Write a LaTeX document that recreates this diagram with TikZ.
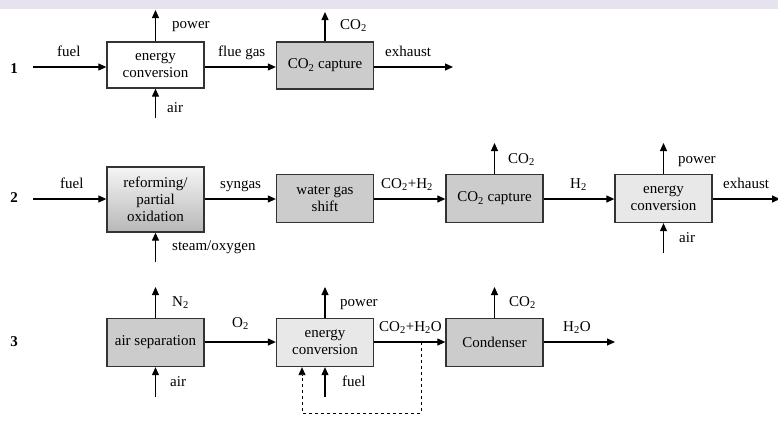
\documentclass[tikz,border=0pt]{standalone}
\usepackage{fontspec}
\setmainfont{Liberation Serif}
\usetikzlibrary{arrows.meta}
\definecolor{band}{RGB}{230,226,240}
\begin{document}
\begin{tikzpicture}[x=1pt,y=-1pt,
  every node/.style={font=\fontsize{15}{17}\selectfont, inner sep=0pt},
  box/.style={draw=black!80, line width=1.3pt, minimum width=97pt, minimum height=48pt, align=center},
  whitebox/.style={box, fill=white},
  graybox/.style={box, fill=black!20},
  lightbox/.style={box, fill=black!9},
  shadebox/.style={box, top color=black!4, bottom color=black!28},
  flow/.style={line width=1.1pt, -{Triangle[length=8pt,width=7pt]}},
  dflow/.style={flow, dashed, line width=0.9pt},
  num/.style={font=\fontsize{15}{17}\selectfont\bfseries},
  lbl/.style={anchor=base west}]
\useasboundingbox (0,0) rectangle (778,421);
\fill[band] (0,0) rectangle (778,9);

% ---------- row 1 ----------
\node[num] (n1) at (14,69) {1};
\node[whitebox, minimum height=46pt] (ec1) at (155.5,65) {energy\\conversion};
\node[graybox, minimum height=47pt] (cap1) at (325,65.5) {CO\textsubscript{2} capture};
\coordinate (f1) at (33,67);
\coordinate (a1) at (155.5,118);
\coordinate (p1) at (155.5,10);
\coordinate (c1) at (325,12);
\coordinate (x1) at (453,67);
\draw[flow] (f1) -- (f1 -| ec1.west);
\draw[flow] (a1) -- (ec1.south);
\draw[flow] (ec1.north) -- (p1);
\draw[flow] (ec1.east |- f1) -- (f1 -| cap1.west);
\draw[flow] (cap1.north) -- (c1);
\draw[flow] (cap1.east |- f1) -- (x1);
\node[lbl] (l1a) at (57,56) {fuel};
\node[lbl] (l1b) at (172,28) {power};
\node[lbl] (l1c) at (167,112) {air};
\node[lbl] (l1d) at (218,56) {flue gas};
\node[lbl] (l1e) at (340,29) {CO\textsubscript{2}};
\node[lbl] (l1f) at (385,56) {exhaust};

% ---------- row 2 ----------
\node[num] (n2) at (14,198) {2};
\node[shadebox, minimum height=65pt] (ref) at (155.5,199.5) {reforming/\\partial\\oxidation};
\node[graybox] (wgs) at (325,198.5) {water gas\\shift};
\node[graybox] (cap2) at (494.5,198.5) {CO\textsubscript{2} capture};
\node[lightbox] (ec2) at (663.5,198.5) {energy\\conversion};
\coordinate (f2) at (33,199);
\coordinate (s2) at (155.5,262);
\coordinate (c2) at (494.5,143);
\coordinate (p2) at (663.5,143);
\coordinate (a2) at (663.5,253);
\coordinate (x2) at (780,199);
\draw[flow] (f2) -- (f2 -| ref.west);
\draw[flow] (s2) -- (ref.south);
\draw[flow] (ref.east |- f2) -- (f2 -| wgs.west);
\draw[flow] (wgs.east |- f2) -- (f2 -| cap2.west);
\draw[flow] (cap2.north) -- (c2);
\draw[flow] (cap2.east |- f2) -- (f2 -| ec2.west);
\draw[flow] (ec2.north) -- (p2);
\draw[flow] (a2) -- (ec2.south);
\draw[flow] (ec2.east |- f2) -- (x2);
\node[lbl] (l2a) at (60,188) {fuel};
\node[lbl] (l2b) at (172,250) {steam/oxygen};
\node[lbl] (l2c) at (220,188) {syngas};
\node[lbl] (l2d) at (381,188) {CO\textsubscript{2}+H\textsubscript{2}};
\node[lbl] (l2e) at (508,163) {CO\textsubscript{2}};
\node[lbl] (l2f) at (570,188) {H\textsubscript{2}};
\node[lbl] (l2g) at (678,163) {power};
\node[lbl] (l2h) at (679,242) {air};
\node[lbl] (l2i) at (723,188) {exhaust};

% ---------- row 3 ----------
\node[num] (n3) at (14,342) {3};
\node[graybox] (asu) at (155.5,342.5) {air separation};
\node[lightbox] (ec3) at (325,342.5) {energy\\conversion};
\node[graybox] (cond) at (494.5,342.5) {Condenser};
\coordinate (n2o) at (155.5,287);
\coordinate (a3) at (155.5,397);
\coordinate (p3) at (325,287);
\coordinate (fu3) at (325,397);
\coordinate (c3) at (494.5,287);
\coordinate (w3) at (615,342);
\coordinate (r1) at (421,342);
\coordinate (r2) at (421,413);
\coordinate (r3) at (302,413);
\draw[flow] (asu.north) -- (n2o);
\draw[flow] (a3) -- (asu.south);
\draw[flow] (asu.east |- w3) -- (w3 -| ec3.west);
\draw[flow] (ec3.north) -- (p3);
\draw[flow] (fu3) -- (ec3.south);
\draw[flow] (ec3.east |- w3) -- (w3 -| cond.west);
\draw[flow] (cond.north) -- (c3);
\draw[flow] (cond.east |- w3) -- (w3);
\draw[dflow] (r1) -- (r2) -- (r3) -- (r3 |- ec3.south);
\node[lbl] (l3a) at (172,306) {N\textsubscript{2}};
\node[lbl] (l3b) at (170,386) {air};
\node[lbl] (l3c) at (232,327) {O\textsubscript{2}};
\node[lbl] (l3d) at (340,306) {power};
\node[lbl] (l3e) at (342,386) {fuel};
\node[lbl] (l3f) at (379,331) {CO\textsubscript{2}+H\textsubscript{2}O};
\node[lbl] (l3g) at (509,306) {CO\textsubscript{2}};
\node[lbl] (l3h) at (563,331) {H\textsubscript{2}O};
\end{tikzpicture}
\end{document}
